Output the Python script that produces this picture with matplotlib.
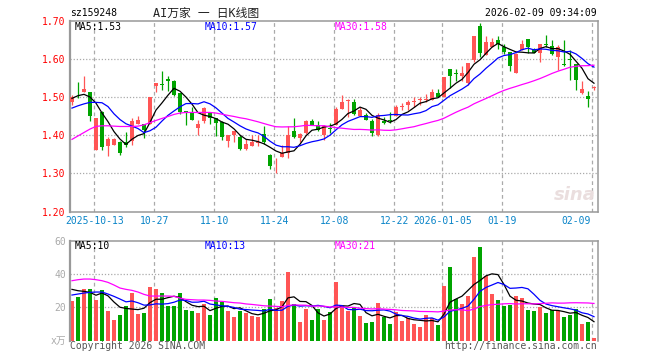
import numpy as np
import pandas as pd
import matplotlib
matplotlib.use('Agg')
import matplotlib.pyplot as plt
import matplotlib.transforms as mtransforms

plt.rcParams['font.family'] = ['DejaVu Sans Mono', 'Noto Sans CJK SC']

# daily candles, oldest first
opens = [1.488, 1.506, 1.514, 1.513, 1.361, 1.462, 1.372, 1.375, 1.383, 1.383,
         1.384, 1.428, 1.430, 1.430, 1.528, 1.533, 1.548, 1.543, 1.511, 1.462,
         1.461, 1.418, 1.436, 1.458, 1.445, 1.435, 1.385, 1.401, 1.394, 1.363,
         1.372, 1.380, 1.404, 1.348, 1.326, 1.344, 1.353, 1.410, 1.392, 1.405,
         1.438, 1.427, 1.401, 1.418, 1.427, 1.468, 1.490, 1.488, 1.449, 1.454,
         1.438, 1.401, 1.436, 1.439, 1.449, 1.475, 1.478, 1.488, 1.492, 1.492,
         1.493, 1.510, 1.500, 1.573, 1.562, 1.555, 1.538, 1.597, 1.687, 1.611,
         1.632, 1.650, 1.631, 1.617, 1.564, 1.624, 1.652, 1.627, 1.615, 1.639,
         1.634, 1.606, 1.587, 1.599, 1.587, 1.510, 1.503, 1.523]
highs = [1.506, 1.539, 1.556, 1.514, 1.446, 1.463, 1.396, 1.392, 1.384, 1.409,
         1.444, 1.451, 1.430, 1.500, 1.537, 1.567, 1.554, 1.544, 1.511, 1.463,
         1.473, 1.440, 1.473, 1.460, 1.446, 1.436, 1.401, 1.412, 1.400, 1.390,
         1.401, 1.401, 1.423, 1.350, 1.340, 1.375, 1.425, 1.445, 1.405, 1.440,
         1.442, 1.436, 1.427, 1.432, 1.475, 1.504, 1.495, 1.495, 1.475, 1.458,
         1.442, 1.458, 1.447, 1.462, 1.480, 1.484, 1.491, 1.499, 1.500, 1.508,
         1.521, 1.521, 1.552, 1.573, 1.573, 1.582, 1.590, 1.660, 1.693, 1.660,
         1.654, 1.660, 1.639, 1.617, 1.615, 1.650, 1.652, 1.628, 1.639, 1.663,
         1.650, 1.637, 1.650, 1.624, 1.587, 1.543, 1.517, 1.528]
lows = [1.480, 1.497, 1.512, 1.438, 1.360, 1.360, 1.346, 1.375, 1.347, 1.368,
        1.375, 1.428, 1.393, 1.430, 1.512, 1.518, 1.515, 1.503, 1.455, 1.426,
        1.440, 1.400, 1.432, 1.430, 1.397, 1.388, 1.368, 1.381, 1.360, 1.360,
        1.372, 1.372, 1.377, 1.311, 1.300, 1.342, 1.339, 1.392, 1.381, 1.404,
        1.427, 1.410, 1.388, 1.405, 1.427, 1.468, 1.447, 1.454, 1.449, 1.439,
        1.398, 1.398, 1.430, 1.432, 1.449, 1.467, 1.467, 1.475, 1.480, 1.486,
        1.493, 1.500, 1.500, 1.523, 1.541, 1.541, 1.532, 1.593, 1.604, 1.611,
        1.631, 1.625, 1.613, 1.567, 1.564, 1.624, 1.615, 1.615, 1.593, 1.632,
        1.611, 1.571, 1.580, 1.545, 1.519, 1.509, 1.475, 1.519]
closes = [1.499, 1.504, 1.521, 1.451, 1.445, 1.370, 1.391, 1.390, 1.353, 1.375,
          1.438, 1.440, 1.414, 1.500, 1.537, 1.532, 1.541, 1.504, 1.462, 1.460,
          1.440, 1.429, 1.471, 1.445, 1.432, 1.395, 1.401, 1.410, 1.363, 1.377,
          1.383, 1.383, 1.381, 1.318, 1.328, 1.353, 1.401, 1.395, 1.404, 1.438,
          1.427, 1.414, 1.423, 1.416, 1.468, 1.486, 1.491, 1.456, 1.467, 1.439,
          1.407, 1.454, 1.433, 1.436, 1.474, 1.475, 1.487, 1.489, 1.494, 1.495,
          1.512, 1.500, 1.552, 1.556, 1.561, 1.562, 1.590, 1.660, 1.615, 1.645,
          1.643, 1.639, 1.617, 1.580, 1.612, 1.639, 1.631, 1.615, 1.639, 1.636,
          1.613, 1.631, 1.584, 1.596, 1.545, 1.521, 1.494, 1.525]
volumes = [23.8, 26.2, 31.0, 31.0, 24.4, 30.4, 17.8, 12.4, 15.4, 20.8,
           28.6, 16.0, 16.6, 32.2, 31.0, 28.6, 20.8, 20.8, 28.6, 18.4,
           17.8, 16.6, 22.0, 15.4, 25.6, 23.2, 17.8, 14.2, 17.8, 16.6,
           14.8, 14.2, 19.0, 25.0, 19.6, 23.8, 41.2, 22.0, 11.2, 19.0,
           12.4, 19.0, 12.4, 17.3, 35.4, 20.8, 18.0, 20.0, 14.8, 10.6,
           11.2, 22.6, 14.0, 10.0, 17.4, 12.0, 13.4, 10.0, 8.4, 15.4,
           13.4, 9.4, 32.8, 44.4, 25.0, 22.0, 26.8, 50.4, 56.4, 39.0,
           28.0, 24.4, 20.8, 21.4, 26.8, 25.6, 18.4, 17.8, 20.0, 16.8,
           18.4, 17.8, 14.2, 15.4, 18.8, 10.0, 11.2, 1.6]

# moving average values at the left edge (history before the window is not shown)
ma5_head = [1.4965, 1.5035, 1.507, 1.500]
ma10_head = [1.471, 1.477, 1.482, 1.486, 1.486, 1.485, 1.475, 1.456, 1.441]
ma30_head = [1.389, 1.398, 1.407, 1.416, 1.423, 1.4246, 1.4246, 1.4237, 1.4228, 1.4228,
             1.4228, 1.4237, 1.427, 1.433, 1.4386, 1.4439, 1.449, 1.4544, 1.458, 1.4596,
             1.4596, 1.4596, 1.4596, 1.4596, 1.458, 1.455, 1.4518, 1.449, 1.4456]
vma5_head = [30.8, 30.0, 29.6, 29.0]
vma10_head = [27.4, 28.0, 28.6, 29.0, 29.2, 29.2, 28.0, 26.6, 25.0]
vma30_head = [36.0, 36.6, 37.0, 37.0, 36.6, 36.0, 35.0, 33.4, 31.6, 30.8,
              30.2, 29.2, 27.8, 26.8, 26.8, 26.8, 26.8, 26.6, 25.6, 24.8,
              24.6, 24.4, 24.4, 24.2, 23.8, 23.6, 23.2, 22.8, 22.6]

date_labels = ['2025-10-13', '10-27', '11-10', '11-24', '12-08', '12-22',
               '2026-01-05', '01-19', '02-09']
date_idx = [4, 14, 24, 34, 44, 54, 62, 72, 87]
price_ticks = [1.20, 1.30, 1.40, 1.50, 1.60, 1.70]
vol_ticks = [20, 40, 60]

RED = '#ff5555'
GREEN = '#00a400'
GRID = '#aaaaaa'


def moving_avg(vals, n, head):
    s = pd.Series(vals).rolling(n).mean().to_numpy()
    s[:len(head)] = head
    return s


o = np.array(opens); h = np.array(highs); l = np.array(lows); c = np.array(closes)
v = np.array(volumes)
x = np.arange(len(c))
up = c >= o
cols = np.where(up, RED, GREEN)

W, H = 660, 360
fig = plt.figure(figsize=(6.6, 3.6), dpi=100)
fig.patch.set_facecolor('white')


def px_axes(left, top, right, bottom):
    return fig.add_axes([left / W, 1 - bottom / H, (right - left) / W, (bottom - top) / H])


ax = px_axes(70, 20.7, 598, 211.5)
axv = px_axes(70, 240.7, 598, 340.7)

xmin, xmax = -0.33, len(c) - 0.33
for a in (ax, axv):
    a.set_xlim(xmin, xmax)
    a.set_xticks([])
    for s in ('left', 'top', 'right', 'bottom'):
        a.spines[s].set_color('#999999')
        a.spines[s].set_linewidth(1.1)
    a.spines['left'].set_linewidth(1.6)
    for i in date_idx:
        a.axvline(i - 0.27, color=GRID, lw=0.9, ls=(0, (3, 2.5)), zorder=0)
axv.spines['bottom'].set_visible(False)

# price panel
ax.set_ylim(1.20, 1.70)
ax.set_yticks(price_ticks)
ax.set_yticklabels(['%.2f' % t for t in price_ticks])
ax.tick_params(axis='y', length=0, pad=3, labelsize=7, labelcolor='red')
for t in price_ticks[1:-1]:
    ax.axhline(t, color=GRID, lw=0.9, ls=(0, (1, 1.5)), zorder=0)

ax.vlines(x, l, h, colors=cols, lw=0.9, zorder=2)
body_h = np.maximum(np.abs(c - o), 0.0022)
ax.bar(x, body_h, bottom=np.minimum(o, c), width=0.68, color=cols, lw=0, zorder=3)

ax.plot(x, moving_avg(c, 5, ma5_head), color='black', lw=0.9, zorder=4)
ax.plot(x, moving_avg(c, 10, ma10_head), color='#0000ff', lw=0.9, zorder=4)
ax.plot(x, moving_avg(c, 30, ma30_head), color='#ff00ff', lw=0.9, zorder=4)

ax.text(0.0095, 0.965, 'MA5:1.53', transform=ax.transAxes, fontsize=7, color='black', va='center')
ax.text(0.2557, 0.965, 'MA10:1.57', transform=ax.transAxes, fontsize=7, color='#0000ff', va='center')
ax.text(0.5019, 0.965, 'MA30:1.58', transform=ax.transAxes, fontsize=7, color='#ff00ff', va='center')

ax.text(0.995, 0.04, 'sina', transform=ax.transAxes, fontsize=13, color='#eadede',
        ha='right', va='bottom', style='italic', fontweight='bold', family='DejaVu Sans', zorder=1)

trans = mtransforms.blended_transform_factory(ax.transData, ax.transAxes)
for lab, i in zip(date_labels, date_idx):
    if i == date_idx[-1]:
        ax.text(i - 0.5, -0.05, lab, transform=trans, fontsize=7, color='#0a84c8', ha='right', va='center')
    else:
        ax.text(i - 0.27, -0.05, lab, transform=trans, fontsize=7, color='#0a84c8', ha='center', va='center')

# volume panel
axv.set_ylim(0, 60)
axv.set_yticks(vol_ticks)
axv.set_yticklabels([str(t) for t in vol_ticks])
axv.tick_params(axis='y', length=0, pad=3, labelsize=7, labelcolor='#aaaaaa')
for t in vol_ticks[:-1]:
    axv.axhline(t, color=GRID, lw=0.9, ls=(0, (1, 1.5)), zorder=0)
axv.bar(x, v, width=0.82, color=cols, lw=0, zorder=2)
axv.plot(x, moving_avg(v, 5, vma5_head), color='black', lw=0.9, zorder=4)
axv.plot(x, moving_avg(v, 10, vma10_head), color='#0000ff', lw=0.9, zorder=4)
axv.plot(x, moving_avg(v, 30, vma30_head), color='#ff00ff', lw=0.9, zorder=4)

axv.text(0.0095, 0.95, 'MA5:10', transform=axv.transAxes, fontsize=7, color='black', va='center')
axv.text(0.2557, 0.95, 'MA10:13', transform=axv.transAxes, fontsize=7, color='#0000ff', va='center')
axv.text(0.5019, 0.95, 'MA30:21', transform=axv.transAxes, fontsize=7, color='#ff00ff', va='center')

# header / footer texts
fig.text(70 / W, 1 - 13.3 / H, 'sz159248', fontsize=7, color='black', va='center')
fig.text(206 / W, 1 - 13.3 / H, 'AI万家 一 日K线图', fontsize=8.5, color='#222222',
         ha='center', va='center')
fig.text(597 / W, 1 - 13.3 / H, '2026-02-09 09:34:09', fontsize=7, color='black',
         ha='right', va='center')
fig.text(66 / W, 1 - 341 / H, 'x万', fontsize=7, color='#aaaaaa', ha='right', va='center')
fig.text(70 / W, 1 - 346 / H, 'Copyright 2026 SINA.COM', fontsize=7, color='#555555', va='center')
fig.text(597 / W, 1 - 346 / H, 'http://finance.sina.com.cn', fontsize=7, color='#555555',
         ha='right', va='center')

fig.savefig('out.png', dpi=100, facecolor='white')
